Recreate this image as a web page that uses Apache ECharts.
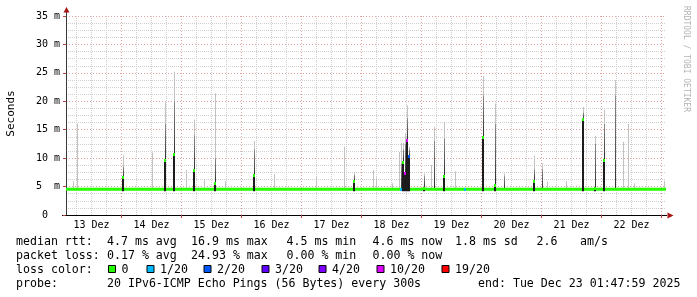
<!DOCTYPE html>
<html><head><meta charset="utf-8">
<script src="https://cdn.jsdelivr.net/npm/echarts@6/dist/echarts.min.js"></script>
<style>html,body{margin:0;padding:0;background:#fff}#c{width:697px;height:297px}</style>
</head><body><div id="c"></div>
<script>
// ---- axis / tick data (x in hours since 13 Dez 00:00) ----
const startHour = 1.8;      // 13 Dez 01:48
const endHour = 241.8;      // 23 Dez 01:48
const dayLabels = ['13 Dez','14 Dez','15 Dez','16 Dez','17 Dez','18 Dez','19 Dez','20 Dez','21 Dez','22 Dez'];
const dayLabelHours = [12,36,60,84,108,132,156,180,204,228];
const midnightHours = [24,48,72,96,120,144,168,192,216,240];
const yTickValues = [0,5,10,15,20,25,30,35];
const yTickLabels = [' 0  ','5  m','10 m','15 m','20 m','25 m','30 m','35 m'];

// ---- median line (ms) ----
const medianTimes = [1.8, 241.8];
const medianValues = [4.55, 4.55];
const baselineMedian = 4.55;

// ---- smoke spikes (ms) ----
const spikeHours  = [4.68,6.28,24.68,36.0,41.32,44.8,49.72,53.08,56.8,61.2,65.2,76.8,84.92,101.72,112.92,116.8,124.4,125.6,132.28,134.8,135.88,136.6,137.4,138.2,139.0,144.92,147.72,149.08,153.08,157.32,161.32,168.68,173.4,176.92,188.8,192.0,194.0,201.72,208.72,213.4,216.88,221.48,224.4,226.48,228.8,241.0];
const spikeMedian = [4.55,4.55,6.7,4.55,9.7,10.7,4.55,7.9,4.55,5.6,4.55,7.0,4.55,4.55,4.55,6.0,4.55,4.55,4.55,4.55,4.55,9.4,7.3,13.2,10.3,4.8,4.55,4.55,6.9,4.55,4.55,13.8,5.3,4.55,6.0,4.55,4.55,4.55,16.8,4.8,9.7,4.55,4.55,4.55,4.55,4.55];
const spikeUpper  = [4.55,4.55,8.5,4.55,16.0,20.0,4.55,14.0,4.55,10.0,4.55,11.5,4.55,4.55,4.55,7.0,4.55,4.55,4.55,4.55,9.0,11.5,12.5,17.0,11.5,6.8,4.55,13.0,13.5,4.55,4.55,21.0,16.0,6.8,8.0,8.0,4.55,4.55,18.0,12.5,16.0,21.0,4.55,4.55,4.55,4.55];
const spikeMax    = [6.0,16.1,10.5,11.0,19.8,25.2,7.9,16.8,6.2,21.4,6.0,13.0,7.2,6.7,12.0,7.5,7.9,6.6,5.6,11.1,12.7,12.7,14.4,19.3,12.0,7.3,8.8,15.5,16.4,7.7,4.55,24.4,19.6,7.3,10.4,9.1,5.9,6.0,19.0,13.9,18.5,23.7,12.9,16.0,5.6,6.0];
const spikeLoss   = [0,0,0,0,0,0,0,0,0,0,0,0,0,0,0,0,0,0,0,0,1,0,10,10,2,0,0,0,0,0,1,0,0,0,0,0,0,0,0,0,0,0,0,0,0,0];

// ---- legend texts ----
const lossThresholds = [0,1,2,3,4,10,19];
const lossLabels = ['0','1/20','2/20','3/20','4/20','10/20','19/20'];
const rttStats = ['4.7 ms avg','16.9 ms max','4.5 ms min','4.6 ms now','1.8 ms sd','2.6','am/s'];
const lossStats = ['0.17 % avg','24.93 % max','0.00 % min','0.00 % now'];
const probeText = '20 IPv6-ICMP Echo Pings (56 Bytes) every 300s';
const endText = 'end: Tue Dec 23 01:47:59 2025';

// ---- styles ----
const lossColors = ['#26ff00','#00b8ff','#0059ff','#5e00ff','#7e00ff','#dd00ff','#ff0000'];
const MONO = '"DejaVu Sans Mono", monospace';
const majorColor = '#e4a4a4';
const minorColor = '#cfcfcf';

function lossColor(l){ let c = lossColors[0]; lossThresholds.forEach((t,i)=>{ if (l >= t) c = lossColors[i]; }); return c; }

const spikeData = spikeHours.map((h,i)=>[h, spikeMedian[i], spikeUpper[i], spikeMax[i], spikeLoss[i]]);
const minorHours = [];
for (let h = 6; h < endHour; h += 6) if (h % 24 !== 0) minorHours.push(h);

function smokeItem(params, api){
  const h = api.value(0);
  const b = api.coord([h, baselineMedian]);
  const m = api.coord([h, api.value(1)]);
  const u = api.coord([h, api.value(2)]);
  const t = api.coord([h, api.value(3)]);
  const x = Math.round(b[0]);
  const ch = [];
  if (t[1] < b[1] - 1) ch.push({type:'rect', shape:{x:x, y:t[1], width:1, height:b[1]-t[1]}, style:{fill:'#c2c2c2'}});
  if (u[1] < m[1] - 1) ch.push({type:'rect', shape:{x:x, y:u[1], width:1, height:m[1]-u[1]},
    style:{fill:new echarts.graphic.LinearGradient(0,0,0,1,[{offset:0,color:'#8c8c8c'},{offset:1,color:'#2a2a2a'}])}});
  return {type:'group', children:ch};
}
function coreItem(params, api){
  const h = api.value(0);
  const b = api.coord([h, baselineMedian]);
  const m = api.coord([h, api.value(1)]);
  const loss = api.value(4);
  const x = Math.round(b[0]);
  const ch = [];
  const raised = api.value(1) > baselineMedian + 0.2;
  if (raised) ch.push({type:'rect', shape:{x:x-1, y:m[1], width:2, height:b[1]-m[1]+2}, style:{fill:'#1c1c1c'}});
  if (raised || loss > 0) ch.push({type:'rect', shape:{x:x-1, y:Math.round(m[1])-1, width:2, height:3}, style:{fill:lossColor(loss)}});
  return {type:'group', children:ch};
}

// ---- graphic texts ----
const G = [];
function txt(x, y, s){ G.push({type:'text', x:x, y:y, style:{text:s, font:'11.6px '+MONO, fill:'#000', align:'left', verticalAlign:'middle'}}); }
const row = [241.5, 255.5, 269.5, 283.5];
txt(16, row[0], 'median rtt:');
[107,191,286.5,372.5,455,536.5,580].forEach((x,i)=>txt(x,row[0],rttStats[i]));
txt(16, row[1], 'packet loss:');
[107,191,286.5,372.5].forEach((x,i)=>txt(x,row[1],lossStats[i]));
txt(16, row[2], 'loss color:');
[108,146.5,203.5,261.5,318.5,376.5,441.5].forEach((x,i)=>{
  G.push({type:'rect', shape:{x:x+0.5, y:265.5, width:7, height:7}, style:{fill:lossColors[i], stroke:'#000', lineWidth:1}});
  txt(x+13.5, row[2], lossLabels[i]);
});
txt(16, row[3], 'probe:');
txt(107, row[3], probeText);
txt(478, row[3], endText);
G.push({type:'text', x:11, y:113.5, rotation:Math.PI/2, style:{text:'Seconds', font:'11px '+MONO, fill:'#000', align:'center', verticalAlign:'middle'}});
G.push({type:'text', x:686.5, y:59, rotation:-Math.PI/2, style:{text:'RRDTOOL / TOBI OETIKER', font:'8px '+MONO, fill:'#b4b4b4', align:'center', verticalAlign:'middle'}});
// axis extensions and arrows
G.push({type:'line', shape:{x1:66.5,y1:16,x2:66.5,y2:11}, style:{stroke:'#3a3a3a', lineWidth:1}});
G.push({type:'line', shape:{x1:62,y1:215.5,x2:667,y2:215.5}, style:{stroke:'#000', lineWidth:1}});
G.push({type:'polygon', shape:{points:[[63.5,12.5],[66.5,7],[69.5,12.5]]}, style:{fill:'#a81414'}});
G.push({type:'polygon', shape:{points:[[667.5,212.5],[673.5,215.5],[667.5,218.5]]}, style:{fill:'#a81414'}});

const chart = echarts.init(document.getElementById('c'), null, {renderer:'canvas'});
chart.setOption({
  animation:false,
  backgroundColor:'#ffffff',
  grid:{left:66, right:31, top:16, bottom:82, containLabel:false},
  xAxis:[
    {type:'value', min:startHour, max:endHour,
     axisLine:{show:true, lineStyle:{color:'#000', width:1}},
     axisTick:{show:true, customValues:midnightHours, length:3, lineStyle:{color:'#c04040'}},
     axisLabel:{show:true, customValues:dayLabelHours, margin:5, color:'#000', fontFamily:MONO, fontSize:10,
       formatter:v=>dayLabels[dayLabelHours.indexOf(v)]||''},
     splitLine:{show:true, lineStyle:{color:majorColor, type:[1,2], width:1}}, z:3},
    {type:'value', min:startHour, max:endHour, position:'bottom',
     axisLine:{show:false}, axisLabel:{show:false},
     axisTick:{show:false, customValues:minorHours},
     splitLine:{show:true, lineStyle:{color:minorColor, type:[1,1], width:1}}, z:1}
  ],
  yAxis:{type:'value', min:0, max:35, interval:5,
    axisLine:{show:true, lineStyle:{color:'#3a3a3a'}},
    axisTick:{show:true, length:3, lineStyle:{color:'#c04040'}},
    axisLabel:{margin:6, color:'#000', fontFamily:MONO, fontSize:10, formatter:v=>yTickLabels[yTickValues.indexOf(v)]||''},
    splitLine:{show:true, lineStyle:{color:majorColor, type:[1,2], width:1}},
    minorTick:{show:false, splitNumber:4},
    minorSplitLine:{show:true, lineStyle:{color:minorColor, type:[1,1], width:1}}},
  series:[
    {type:'custom', name:'smoke', xAxisIndex:0, renderItem:smokeItem, data:spikeData, encode:{x:0, y:[1,2,3]}, z:2, silent:true},
    {type:'line', name:'median', xAxisIndex:0, data:medianTimes.map((t,i)=>[t, medianValues[i]]), symbol:'none',
     lineStyle:{color:lossColors[0], width:3}, z:3, silent:true},
    {type:'custom', name:'core', xAxisIndex:0, renderItem:coreItem, data:spikeData, encode:{x:0, y:[1]}, z:4, silent:true}
  ],
  graphic:G
});
</script></body></html>
